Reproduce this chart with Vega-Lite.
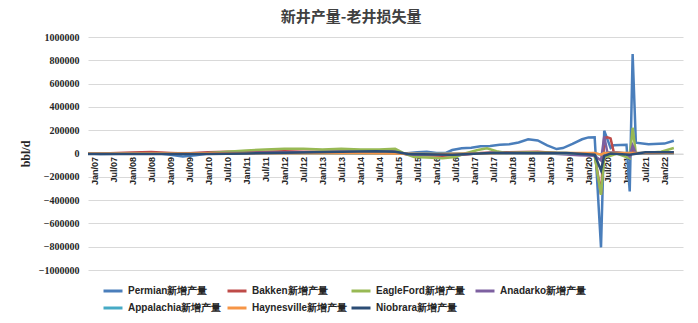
{
  "$schema": "https://vega.github.io/schema/vega-lite/v6.json",
  "width": 595,
  "height": 233,
  "autosize": {"type": "none"},
  "padding": {"left": 88, "top": 37, "right": 15, "bottom": 53},
  "background": "white",
  "title": {
    "text": "新井产量-老井损失量",
    "anchor": "middle",
    "frame": "bounds",
    "font": "Noto Sans CJK SC",
    "fontSize": 15,
    "fontWeight": "bold",
    "color": "#404040",
    "offset": 7
  },
  "data": {
    "values": [
      {"d": "2006-11-01", "s": "Permian新增产量", "v": 0},
      {"d": "2007-03-01", "s": "Permian新增产量", "v": -5000},
      {"d": "2007-09-01", "s": "Permian新增产量", "v": -3000},
      {"d": "2008-03-01", "s": "Permian新增产量", "v": 0},
      {"d": "2008-09-01", "s": "Permian新增产量", "v": 3000},
      {"d": "2009-01-01", "s": "Permian新增产量", "v": -10000},
      {"d": "2009-05-01", "s": "Permian新增产量", "v": -25000},
      {"d": "2009-09-01", "s": "Permian新增产量", "v": -15000},
      {"d": "2010-01-01", "s": "Permian新增产量", "v": 0},
      {"d": "2010-07-01", "s": "Permian新增产量", "v": 5000},
      {"d": "2011-01-01", "s": "Permian新增产量", "v": 5000},
      {"d": "2011-07-01", "s": "Permian新增产量", "v": 10000},
      {"d": "2012-01-01", "s": "Permian新增产量", "v": 5000},
      {"d": "2012-07-01", "s": "Permian新增产量", "v": 10000},
      {"d": "2013-01-01", "s": "Permian新增产量", "v": 12000},
      {"d": "2013-07-01", "s": "Permian新增产量", "v": 15000},
      {"d": "2014-01-01", "s": "Permian新增产量", "v": 15000},
      {"d": "2014-07-01", "s": "Permian新增产量", "v": 20000},
      {"d": "2014-11-01", "s": "Permian新增产量", "v": 20000},
      {"d": "2015-03-01", "s": "Permian新增产量", "v": 0},
      {"d": "2015-07-01", "s": "Permian新增产量", "v": 10000},
      {"d": "2015-10-01", "s": "Permian新增产量", "v": 15000},
      {"d": "2016-01-01", "s": "Permian新增产量", "v": 5000},
      {"d": "2016-04-01", "s": "Permian新增产量", "v": 5000},
      {"d": "2016-06-01", "s": "Permian新增产量", "v": 30000},
      {"d": "2016-09-01", "s": "Permian新增产量", "v": 45000},
      {"d": "2016-12-01", "s": "Permian新增产量", "v": 50000},
      {"d": "2017-03-01", "s": "Permian新增产量", "v": 62000},
      {"d": "2017-06-01", "s": "Permian新增产量", "v": 65000},
      {"d": "2017-09-01", "s": "Permian新增产量", "v": 75000},
      {"d": "2017-12-01", "s": "Permian新增产量", "v": 80000},
      {"d": "2018-03-01", "s": "Permian新增产量", "v": 95000},
      {"d": "2018-06-01", "s": "Permian新增产量", "v": 122000},
      {"d": "2018-09-01", "s": "Permian新增产量", "v": 112000},
      {"d": "2018-12-01", "s": "Permian新增产量", "v": 70000},
      {"d": "2019-03-01", "s": "Permian新增产量", "v": 38000},
      {"d": "2019-05-01", "s": "Permian新增产量", "v": 47000},
      {"d": "2019-08-01", "s": "Permian新增产量", "v": 82000},
      {"d": "2019-11-01", "s": "Permian新增产量", "v": 122000},
      {"d": "2020-01-01", "s": "Permian新增产量", "v": 138000},
      {"d": "2020-03-01", "s": "Permian新增产量", "v": 140000},
      {"d": "2020-05-01", "s": "Permian新增产量", "v": -806000},
      {"d": "2020-06-01", "s": "Permian新增产量", "v": 196000},
      {"d": "2020-08-01", "s": "Permian新增产量", "v": 47000},
      {"d": "2020-09-01", "s": "Permian新增产量", "v": 70000},
      {"d": "2021-01-01", "s": "Permian新增产量", "v": 75000},
      {"d": "2021-02-01", "s": "Permian新增产量", "v": -325000},
      {"d": "2021-03-01", "s": "Permian新增产量", "v": 854000},
      {"d": "2021-04-01", "s": "Permian新增产量", "v": 93000},
      {"d": "2021-08-01", "s": "Permian新增产量", "v": 80000},
      {"d": "2022-01-01", "s": "Permian新增产量", "v": 85000},
      {"d": "2022-04-01", "s": "Permian新增产量", "v": 110000},

      {"d": "2006-11-01", "s": "Bakken新增产量", "v": 0},
      {"d": "2007-06-01", "s": "Bakken新增产量", "v": 2000},
      {"d": "2008-01-01", "s": "Bakken新增产量", "v": 8000},
      {"d": "2008-07-01", "s": "Bakken新增产量", "v": 12000},
      {"d": "2009-01-01", "s": "Bakken新增产量", "v": 5000},
      {"d": "2009-06-01", "s": "Bakken新增产量", "v": 0},
      {"d": "2010-01-01", "s": "Bakken新增产量", "v": 10000},
      {"d": "2010-07-01", "s": "Bakken新增产量", "v": 15000},
      {"d": "2011-07-01", "s": "Bakken新增产量", "v": 15000},
      {"d": "2012-01-01", "s": "Bakken新增产量", "v": 20000},
      {"d": "2012-07-01", "s": "Bakken新增产量", "v": 15000},
      {"d": "2014-12-01", "s": "Bakken新增产量", "v": 15000},
      {"d": "2015-04-01", "s": "Bakken新增产量", "v": -10000},
      {"d": "2015-09-01", "s": "Bakken新增产量", "v": -15000},
      {"d": "2016-03-01", "s": "Bakken新增产量", "v": -20000},
      {"d": "2016-09-01", "s": "Bakken新增产量", "v": -10000},
      {"d": "2017-03-01", "s": "Bakken新增产量", "v": 5000},
      {"d": "2017-09-01", "s": "Bakken新增产量", "v": 10000},
      {"d": "2018-09-01", "s": "Bakken新增产量", "v": 15000},
      {"d": "2019-03-01", "s": "Bakken新增产量", "v": 5000},
      {"d": "2020-01-01", "s": "Bakken新增产量", "v": 0},
      {"d": "2020-03-01", "s": "Bakken新增产量", "v": -10000},
      {"d": "2020-05-01", "s": "Bakken新增产量", "v": -350000},
      {"d": "2020-06-01", "s": "Bakken新增产量", "v": 133000},
      {"d": "2020-07-01", "s": "Bakken新增产量", "v": 140000},
      {"d": "2020-08-01", "s": "Bakken新增产量", "v": 130000},
      {"d": "2020-09-01", "s": "Bakken新增产量", "v": 10000},
      {"d": "2021-01-01", "s": "Bakken新增产量", "v": 0},
      {"d": "2021-02-01", "s": "Bakken新增产量", "v": -30000},
      {"d": "2021-03-01", "s": "Bakken新增产量", "v": 30000},
      {"d": "2021-04-01", "s": "Bakken新增产量", "v": 0},
      {"d": "2021-10-01", "s": "Bakken新增产量", "v": 5000},
      {"d": "2022-04-01", "s": "Bakken新增产量", "v": 10000},

      {"d": "2006-11-01", "s": "EagleFord新增产量", "v": 0},
      {"d": "2009-06-01", "s": "EagleFord新增产量", "v": 2000},
      {"d": "2010-01-01", "s": "EagleFord新增产量", "v": 5000},
      {"d": "2010-07-01", "s": "EagleFord新增产量", "v": 15000},
      {"d": "2011-01-01", "s": "EagleFord新增产量", "v": 25000},
      {"d": "2011-07-01", "s": "EagleFord新增产量", "v": 35000},
      {"d": "2012-01-01", "s": "EagleFord新增产量", "v": 40000},
      {"d": "2012-07-01", "s": "EagleFord新增产量", "v": 40000},
      {"d": "2013-01-01", "s": "EagleFord新增产量", "v": 35000},
      {"d": "2013-07-01", "s": "EagleFord新增产量", "v": 40000},
      {"d": "2014-01-01", "s": "EagleFord新增产量", "v": 35000},
      {"d": "2014-07-01", "s": "EagleFord新增产量", "v": 35000},
      {"d": "2014-12-01", "s": "EagleFord新增产量", "v": 40000},
      {"d": "2015-03-01", "s": "EagleFord新增产量", "v": 0},
      {"d": "2015-06-01", "s": "EagleFord新增产量", "v": -30000},
      {"d": "2015-10-01", "s": "EagleFord新增产量", "v": -35000},
      {"d": "2016-03-01", "s": "EagleFord新增产量", "v": -40000},
      {"d": "2016-07-01", "s": "EagleFord新增产量", "v": -30000},
      {"d": "2016-10-01", "s": "EagleFord新增产量", "v": 0},
      {"d": "2017-02-01", "s": "EagleFord新增产量", "v": 30000},
      {"d": "2017-05-01", "s": "EagleFord新增产量", "v": 45000},
      {"d": "2017-08-01", "s": "EagleFord新增产量", "v": 20000},
      {"d": "2017-11-01", "s": "EagleFord新增产量", "v": 5000},
      {"d": "2018-06-01", "s": "EagleFord新增产量", "v": 10000},
      {"d": "2019-06-01", "s": "EagleFord新增产量", "v": 5000},
      {"d": "2019-12-01", "s": "EagleFord新增产量", "v": 0},
      {"d": "2020-03-01", "s": "EagleFord新增产量", "v": -20000},
      {"d": "2020-05-01", "s": "EagleFord新增产量", "v": -355000},
      {"d": "2020-06-01", "s": "EagleFord新增产量", "v": -30000},
      {"d": "2020-08-01", "s": "EagleFord新增产量", "v": -20000},
      {"d": "2020-10-01", "s": "EagleFord新增产量", "v": 0},
      {"d": "2021-02-01", "s": "EagleFord新增产量", "v": -40000},
      {"d": "2021-03-01", "s": "EagleFord新增产量", "v": 221000},
      {"d": "2021-04-01", "s": "EagleFord新增产量", "v": 0},
      {"d": "2021-07-01", "s": "EagleFord新增产量", "v": 5000},
      {"d": "2021-12-01", "s": "EagleFord新增产量", "v": 15000},
      {"d": "2022-04-01", "s": "EagleFord新增产量", "v": 47000},

      {"d": "2006-11-01", "s": "Anadarko新增产量", "v": 0},
      {"d": "2011-01-01", "s": "Anadarko新增产量", "v": 5000},
      {"d": "2013-01-01", "s": "Anadarko新增产量", "v": 10000},
      {"d": "2014-12-01", "s": "Anadarko新增产量", "v": 10000},
      {"d": "2015-06-01", "s": "Anadarko新增产量", "v": -10000},
      {"d": "2016-06-01", "s": "Anadarko新增产量", "v": -10000},
      {"d": "2017-06-01", "s": "Anadarko新增产量", "v": 5000},
      {"d": "2019-01-01", "s": "Anadarko新增产量", "v": 0},
      {"d": "2019-10-01", "s": "Anadarko新增产量", "v": -15000},
      {"d": "2020-03-01", "s": "Anadarko新增产量", "v": -20000},
      {"d": "2020-05-01", "s": "Anadarko新增产量", "v": -60000},
      {"d": "2020-06-01", "s": "Anadarko新增产量", "v": 147000},
      {"d": "2020-07-01", "s": "Anadarko新增产量", "v": 10000},
      {"d": "2021-01-01", "s": "Anadarko新增产量", "v": 0},
      {"d": "2021-02-01", "s": "Anadarko新增产量", "v": -25000},
      {"d": "2021-03-01", "s": "Anadarko新增产量", "v": 67000},
      {"d": "2021-04-01", "s": "Anadarko新增产量", "v": 0},
      {"d": "2022-04-01", "s": "Anadarko新增产量", "v": 5000},

      {"d": "2006-11-01", "s": "Appalachia新增产量", "v": 0},
      {"d": "2012-01-01", "s": "Appalachia新增产量", "v": 2000},
      {"d": "2015-06-01", "s": "Appalachia新增产量", "v": -3000},
      {"d": "2018-01-01", "s": "Appalachia新增产量", "v": 3000},
      {"d": "2020-03-01", "s": "Appalachia新增产量", "v": 0},
      {"d": "2020-05-01", "s": "Appalachia新增产量", "v": -10000},
      {"d": "2020-06-01", "s": "Appalachia新增产量", "v": 5000},
      {"d": "2022-04-01", "s": "Appalachia新增产量", "v": 3000},

      {"d": "2006-11-01", "s": "Haynesville新增产量", "v": 0},
      {"d": "2010-01-01", "s": "Haynesville新增产量", "v": 3000},
      {"d": "2014-01-01", "s": "Haynesville新增产量", "v": 3000},
      {"d": "2016-01-01", "s": "Haynesville新增产量", "v": -5000},
      {"d": "2018-01-01", "s": "Haynesville新增产量", "v": 5000},
      {"d": "2020-03-01", "s": "Haynesville新增产量", "v": 5000},
      {"d": "2020-05-01", "s": "Haynesville新增产量", "v": -10000},
      {"d": "2020-06-01", "s": "Haynesville新增产量", "v": 5000},
      {"d": "2022-04-01", "s": "Haynesville新增产量", "v": 5000},

      {"d": "2006-11-01", "s": "Niobrara新增产量", "v": -5000},
      {"d": "2010-01-01", "s": "Niobrara新增产量", "v": -5000},
      {"d": "2011-01-01", "s": "Niobrara新增产量", "v": 0},
      {"d": "2012-06-01", "s": "Niobrara新增产量", "v": 8000},
      {"d": "2013-07-01", "s": "Niobrara新增产量", "v": 15000},
      {"d": "2014-06-01", "s": "Niobrara新增产量", "v": 20000},
      {"d": "2014-12-01", "s": "Niobrara新增产量", "v": 15000},
      {"d": "2015-04-01", "s": "Niobrara新增产量", "v": -5000},
      {"d": "2016-06-01", "s": "Niobrara新增产量", "v": -10000},
      {"d": "2017-06-01", "s": "Niobrara新增产量", "v": 5000},
      {"d": "2019-06-01", "s": "Niobrara新增产量", "v": 5000},
      {"d": "2020-03-01", "s": "Niobrara新增产量", "v": -10000},
      {"d": "2020-05-01", "s": "Niobrara新增产量", "v": -145000},
      {"d": "2020-06-01", "s": "Niobrara新增产量", "v": -20000},
      {"d": "2020-08-01", "s": "Niobrara新增产量", "v": 0},
      {"d": "2021-02-01", "s": "Niobrara新增产量", "v": -10000},
      {"d": "2021-07-01", "s": "Niobrara新增产量", "v": 10000},
      {"d": "2022-04-01", "s": "Niobrara新增产量", "v": 10000}
    ]
  },
  "mark": {"type": "line", "strokeWidth": 2.5, "clip": true},
  "encoding": {
    "x": {
      "field": "d",
      "type": "temporal",
      "scale": {"type": "utc", "domain": ["2006-11-01", "2022-06-28"]},
      "axis": {
        "title": null,
        "format": "%b/%y",
        "tickCount": {"interval": "month", "step": 6},
        "labelAngle": 270,
        "labelFont": "Liberation Sans",
        "labelFontWeight": "bold",
        "labelFontSize": 9,
        "labelColor": "#262626",
        "labelPadding": 3,
        "labelOverlap": false,
        "offset": -116.5,
        "grid": false,
        "ticks": false,
        "domainColor": "#d9d9d9",
        "domainWidth": 1
      }
    },
    "y": {
      "field": "v",
      "type": "quantitative",
      "scale": {"domain": [-1000000, 1000000], "nice": false},
      "axis": {
        "title": "bbl/d",
        "titleFont": "Liberation Serif",
        "titleFontSize": 12,
        "titleFontWeight": "bold",
        "titleColor": "#262626",
        "titlePadding": 6,
        "values": [-1000000, -800000, -600000, -400000, -200000, 0, 200000, 400000, 600000, 800000, 1000000],
        "format": "d",
        "labelFont": "Liberation Serif",
        "labelFontWeight": "bold",
        "labelFontSize": 10,
        "labelColor": "#262626",
        "labelPadding": 9,
        "domain": false,
        "ticks": false,
        "gridColor": "#d9d9d9",
        "gridWidth": 1
      }
    },
    "color": {
      "field": "s",
      "type": "nominal",
      "scale": {
        "domain": ["Permian新增产量", "Bakken新增产量", "EagleFord新增产量", "Anadarko新增产量", "Appalachia新增产量", "Haynesville新增产量", "Niobrara新增产量"],
        "range": ["#4a7ebb", "#be4b48", "#98b954", "#7d60a0", "#46aac5", "#f69546", "#2c4d75"]
      },
      "legend": {
        "title": null,
        "orient": "none",
        "legendX": 14,
        "legendY": 243,
        "direction": "horizontal",
        "columns": 4,
        "gridAlign": "all",
        "symbolType": "stroke",
        "symbolSize": 361,
        "symbolStrokeWidth": 3,
        "labelFont": "Liberation Sans",
        "labelFontWeight": "bold",
        "labelFontSize": 10,
        "labelColor": "#262626",
        "labelOffset": 4,
        "labelLimit": 200,
        "columnPadding": -3,
        "rowPadding": -4
      }
    }
  },
  "config": {
    "view": {"stroke": null}
  }
}
